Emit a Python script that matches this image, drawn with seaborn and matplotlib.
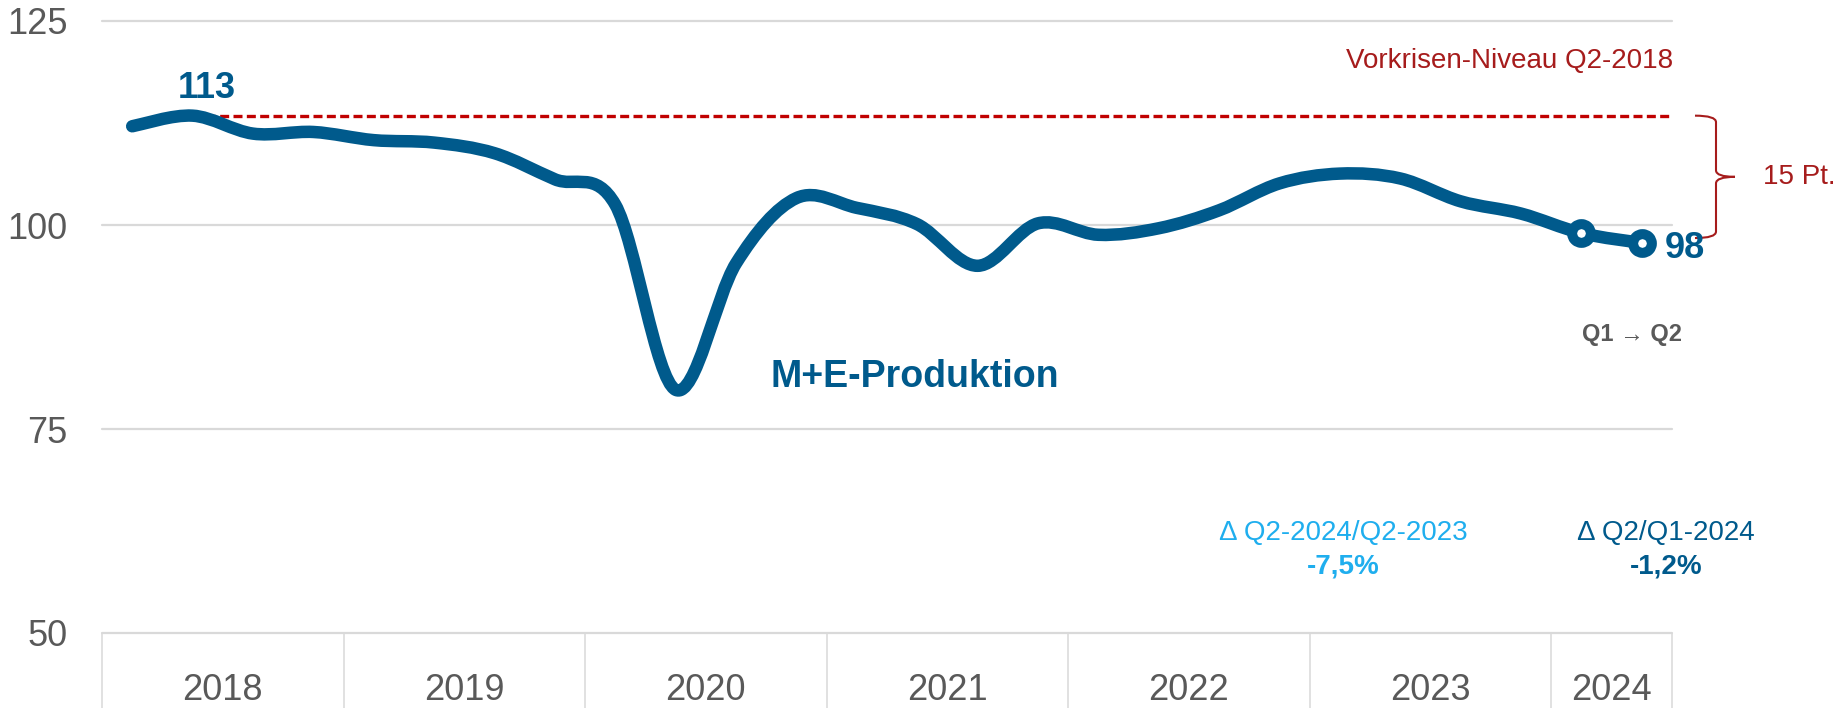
import numpy as np
import pandas as pd
import matplotlib
matplotlib.use("Agg")
import matplotlib.pyplot as plt
import matplotlib.transforms as mtransforms
from matplotlib.path import Path
from matplotlib.patches import PathPatch
import seaborn as sns

# ---- data -------------------------------------------------------------
years = ["2018", "2019", "2020", "2021", "2022", "2023", "2024"]
quarters_per_year = [4, 4, 4, 4, 4, 4, 2]
quarter_labels = [f"Q{q}-{y}" for y, n in zip(years, quarters_per_year)
                  for q in range(1, n + 1)]
production = [112.1, 113.4, 111.2, 111.4, 110.4, 110.1, 108.8, 105.6,
              102.5, 79.8, 95.3, 103.3, 102.1, 100.1, 95.0, 100.2,
              98.8, 99.6, 101.8, 105.1, 106.3, 105.7, 102.9, 101.4,
              99.0, 97.8]
yticks = [50, 75, 100, 125]
gap_points = 15

series_label = "M+E-Produktion"
reference_label = "Vorkrisen-Niveau Q2-2018"
gap_label = f"{gap_points} Pt."
yoy_label = "Δ Q2-2024/Q2-2023"
yoy_value = "-7,5%"
qoq_label = "Δ Q2/Q1-2024"
qoq_value = "-1,2%"
step_label = "Q1 → Q2"

# ---- styling ----------------------------------------------------------
BLUE = "#005A8C"
LIGHT_BLUE = "#1FAEEE"
RED = "#C00000"
DARK_RED = "#A61C1C"
GREY_TEXT = "#595959"
GRID = "#D9D9D9"

sns.set_theme(style="white")
plt.rcParams["font.family"] = ["Liberation Sans", "DejaVu Sans"]

df = pd.DataFrame({"quarter": quarter_labels,
                   "pos": np.arange(len(quarter_labels)),
                   "value": production})

W, H = 1846, 708
fig = plt.figure(figsize=(W / 100, H / 100), dpi=100)
ax = fig.add_axes([102 / W, (H - 633) / H, 1570 / W, 612 / H])


def smooth_path(xs, ys):
    """Cubic Bezier path through every point (Catmull-Rom style smoothing)."""
    n = len(xs)
    verts = [(xs[0], ys[0])]
    codes = [Path.MOVETO]
    for i in range(n - 1):
        x0, y0 = (xs[i - 1], ys[i - 1]) if i > 0 else (xs[i], ys[i])
        x1, y1 = xs[i], ys[i]
        x2, y2 = xs[i + 1], ys[i + 1]
        x3, y3 = (xs[i + 2], ys[i + 2]) if i + 2 < n else (x2, y2)
        verts += [(x1 + (x2 - x0) / 6, y1 + (y2 - y0) / 6),
                  (x2 - (x3 - x1) / 6, y2 - (y3 - y1) / 6),
                  (x2, y2)]
        codes += [Path.CURVE4] * 3
    return Path(verts, codes)


# main series
line = PathPatch(smooth_path(df["pos"].to_numpy(float), df["value"].to_numpy(float)),
                 facecolor="none", edgecolor=BLUE, lw=9,
                 capstyle="round", joinstyle="round", zorder=4)
ax.add_patch(line)

# ring markers on the two latest quarters
sns.lineplot(data=df.tail(2), x="pos", y="value", ax=ax, marker="o",
             color=BLUE, linewidth=0, legend=False)
ring = ax.lines[-1]
ring.set_markersize(13.5)
ring.set_markeredgewidth(7.2)
ring.set_markerfacecolor("white")
ring.set_markeredgecolor(BLUE)
ring.set_zorder(6)

# pre-crisis reference level
level = production[1]
ax.hlines(level, 1, len(production) - 0.5, colors=RED, lw=2.4,
          linestyles=[(0, (2.7, 1.3))], zorder=3)

# ---- axes -------------------------------------------------------------
ax.set_xlim(-0.5, len(production) - 0.5)
ax.set_ylim(50, 125)
for s in ax.spines.values():
    s.set_visible(False)

ax.set_yticks(yticks)
ax.set_yticklabels([str(t) for t in yticks])
ax.tick_params(axis="y", length=0, pad=25, labelsize=26, labelcolor=GREY_TEXT)
ax.yaxis.grid(True, color=GRID, lw=1.6)
ax.xaxis.grid(False)
for gl in ax.get_ygridlines():
    gl.set_clip_on(False)

starts = np.concatenate([[0], np.cumsum(quarters_per_year)[:-1]])
centers = starts + np.array(quarters_per_year) / 2 - 0.5
bounds = list(starts - 0.5) + [len(production) - 0.5]
ax.set_xticks(centers)
ax.set_xticklabels(years)
ax.set_xticks(bounds, minor=True)
ax.tick_params(axis="x", which="major", bottom=True, length=0, pad=48,
               labelsize=26, labelcolor=GREY_TEXT)
ax.tick_params(axis="x", which="minor", bottom=True, length=54, width=1.1,
               color=GRID, direction="out")
for lab in ax.get_xticklabels():
    lab.set_va("baseline")
ax.set_xlabel("")
ax.set_ylabel("")

# ---- annotations ------------------------------------------------------
ax.annotate(f"{production[1]:.0f}", (1, production[1]), xytext=(10, 13),
            textcoords="offset points", ha="center", va="baseline",
            fontsize=26, fontweight="bold", color=BLUE, zorder=7)
ax.annotate(f"{production[-1]:.0f}", (len(production) - 1, production[-1]),
            xytext=(16.5, -11), textcoords="offset points", ha="left",
            va="baseline", fontsize=26, fontweight="bold", color=BLUE,
            annotation_clip=False, zorder=7)

ax.text(10.57, 81.4, series_label, ha="left", va="center", fontsize=27,
        fontweight="bold", color=BLUE)

blend = mtransforms.blended_transform_factory(ax.transAxes, ax.transData)
ax.text(1.001, 120.1, reference_label, transform=blend, ha="right",
        va="center", fontsize=20, color=DARK_RED)

# brace spanning the gap between reference level and the latest readings
top, bot = level, level - gap_points
mid = (top + bot) / 2
x0, x1, x2 = (1695 - 102) / 1570, (1716 - 102) / 1570, (1735 - 102) / 1570
r = 0.8
brace = Path(
    [(x0, top), (x1, top), (x1, top - r),
     (x1, mid + r),
     (x1, mid), (x2, mid),
     (x2, mid),
     (x1, mid), (x1, mid - r),
     (x1, bot + r),
     (x1, bot), (x0, bot)],
    [Path.MOVETO, Path.CURVE3, Path.CURVE3,
     Path.LINETO,
     Path.CURVE3, Path.CURVE3,
     Path.MOVETO,
     Path.CURVE3, Path.CURVE3,
     Path.LINETO,
     Path.CURVE3, Path.CURVE3])
ax.add_patch(PathPatch(brace, transform=blend, facecolor="none",
                       edgecolor=DARK_RED, lw=1.5, clip_on=False))
ax.text((1763 - 102) / 1570, mid, gap_label, transform=blend, ha="left",
        va="center", fontsize=20, color=DARK_RED)

ax.text(24.83, 86.6, step_label, ha="center", va="center", fontsize=17,
        fontweight="bold", color=GREY_TEXT)

ax.text(20.05, 62.25, yoy_label, ha="center", va="center", fontsize=20,
        color=LIGHT_BLUE)
ax.text(20.05, 58.2, yoy_value, ha="center", va="center", fontsize=20,
        fontweight="bold", color=LIGHT_BLUE)
ax.text(25.4, 62.25, qoq_label, ha="center", va="center", fontsize=20,
        color=BLUE, clip_on=False)
ax.text(25.4, 58.2, qoq_value, ha="center", va="center", fontsize=20,
        fontweight="bold", color=BLUE, clip_on=False)

fig.savefig("out.png", dpi=100, facecolor="white")
